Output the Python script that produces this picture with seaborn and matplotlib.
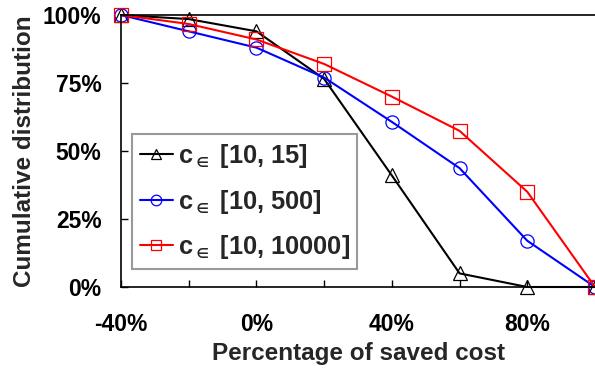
import pandas as pd
import numpy as np
import matplotlib
matplotlib.use("Agg")
import matplotlib.pyplot as plt
import seaborn as sns

# Data (percent)
saved_cost = [-40, -20, 0, 20, 40, 60, 80, 100]
cdf_15 = [100, 98.5, 94, 76.5, 41, 5, 0, 0]
cdf_500 = [100, 94, 88, 77, 60.7, 43.7, 17, 0]
cdf_10000 = [100, 96.7, 91, 82, 70, 57.4, 35, 0]

series_labels = [r"c$_{\in}$ [10, 15]", r"c$_{\in}$ [10, 500]", r"c$_{\in}$ [10, 10000]"]
series_colors = ["black", "#0000ff", "#ff0000"]
series_markers = ["^", "o", "s"]

x_ticks = [-40, -20, 0, 20, 40, 60, 80, 100]
x_labels = ["-40%", "", "0%", "", "40%", "", "80%", ""]
y_ticks = [0, 25, 50, 75, 100]
y_labels = ["0%", "25%", "50%", "75%", "100%"]

sns.set_theme(style="ticks")
plt.rcParams["font.family"] = ["Liberation Sans", "DejaVu Sans"]
plt.rcParams["font.weight"] = "bold"
plt.rcParams["mathtext.fontset"] = "custom"
plt.rcParams["mathtext.rm"] = "Liberation Sans:bold"
plt.rcParams["mathtext.it"] = "Liberation Sans:bold"
plt.rcParams["mathtext.bf"] = "Liberation Sans:bold"
plt.rcParams["mathtext.default"] = "regular"

fig = plt.figure(figsize=(5.95, 3.71), dpi=100)
ax = fig.add_axes([121 / 595, 1 - 287 / 371, 1 - 121 / 595, (287 - 15) / 371])

for vals, lab, col, mk in zip([cdf_15, cdf_500, cdf_10000], series_labels, series_colors, series_markers):
    df = pd.DataFrame({"x": saved_cost, "y": vals})
    sns.lineplot(data=df, x="x", y="y", ax=ax, color=col, marker=mk, markersize=9.5,
                 markerfacecolor="none", markeredgecolor=col, markeredgewidth=0.9,
                 linewidth=1.5, label=lab, clip_on=False)

ax.set_xlim(-40, 100)
ax.set_ylim(0, 100)
ax.set_xticks(x_ticks)
ax.set_xticklabels(x_labels)
ax.set_yticks(y_ticks)
ax.set_yticklabels(y_labels)
ax.tick_params(axis="both", which="major", direction="in", length=5, width=1,
               color="black", labelcolor="black", labelsize=16.5,
               left=True, bottom=True, top=False, right=False)
ax.tick_params(axis="x", pad=19)
ax.tick_params(axis="y", pad=14)
for lbl in ax.get_xticklabels() + ax.get_yticklabels():
    lbl.set_fontweight("bold")

for side in ["left", "bottom", "top"]:
    ax.spines[side].set_visible(True)
    ax.spines[side].set_color("black")
    ax.spines[side].set_linewidth(1.2)
ax.spines["right"].set_visible(False)

ax.set_xlabel("Percentage of saved cost", fontsize=17.5, fontweight="bold", labelpad=4)
ax.set_ylabel("Cumulative distribution", fontsize=17.5, fontweight="bold", labelpad=5)

leg = ax.legend(loc="lower left", bbox_to_anchor=(11 / 474, 18 / 272), borderaxespad=0,
                fontsize=18.3, frameon=True, fancybox=False, handlelength=1.3,
                handletextpad=0.2, labelspacing=0.7, borderpad=0.3, markerscale=0.8)
leg.get_frame().set_edgecolor("#808080")
leg.get_frame().set_linewidth(1.5)
for t in leg.get_texts():
    t.set_fontweight("bold")

fig.savefig("out.png", dpi=100)
